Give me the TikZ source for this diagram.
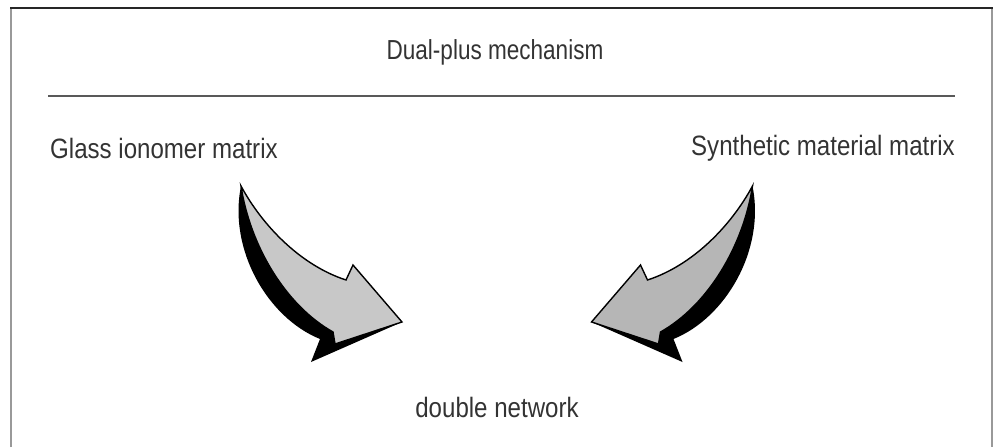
\documentclass[tikz,border=0pt]{standalone}
\usepackage{fontspec}
\setmainfont{Liberation Sans}[FakeStretch=0.86]
\newfontfamily\titlefont{Liberation Sans}[FakeStretch=0.82]
\definecolor{txt}{HTML}{333333}
\definecolor{leftgray}{HTML}{C8C8C8}
\definecolor{rightgray}{HTML}{B6B6B6}
\newcommand\curvyarrow[1]{%
  % black extruded side
  \fill[black] (241,186) .. controls (228,250) and (268,318) .. (320,339)
     -- (311,362) -- (402,322) -- (353,265) -- (346,280)
     .. controls (300,265) and (262,225) .. (241,186) -- cycle;
  % gray face
  \filldraw[fill=#1, draw=black, line width=1.4pt, line join=miter]
     (241,186) .. controls (262,225) and (300,265) .. (346,280)
     -- (353,265) -- (402,322) -- (335,344) -- (333,332)
     .. controls (285,305) and (250,245) .. (241,186) -- cycle;
}
\begin{document}
\begin{tikzpicture}[x=1pt,y=-1pt,
  lbl/.style={font=\fontsize{28}{32}\selectfont, text=txt, inner sep=0pt},
  ttl/.style={font=\titlefont\fontsize{27.5}{32}\selectfont, text=txt, inner sep=0pt}]
\useasboundingbox (0,0) rectangle (993,447);
% frame
\draw[line width=2pt, black!40] (11,447) -- (11,8);
\draw[line width=2pt, black!40] (992,8) -- (992,447);
\draw[line width=2pt, black!85] (10,8) -- (993,8);
% title and separator
\node[ttl] (title) at (495,52) {Dual-plus mechanism};
\coordinate (sepL) at (48,96);
\coordinate (sepR) at (955,96);
\draw[line width=1.5pt, black!65] (sepL) -- (sepR);
% labels
\node[lbl, anchor=west] (glass) at (50,148) {Glass ionomer matrix};
\node[lbl, anchor=east] (synth) at (955,148) {Synthetic material matrix};
\node[lbl] (dbl) at (497,407) {double network};
% arrows
\begin{scope}
  \curvyarrow{leftgray}
\end{scope}
\begin{scope}[shift={(993.5,0)}, xscale=-1]
  \curvyarrow{rightgray}
\end{scope}
\end{tikzpicture}
\end{document}
